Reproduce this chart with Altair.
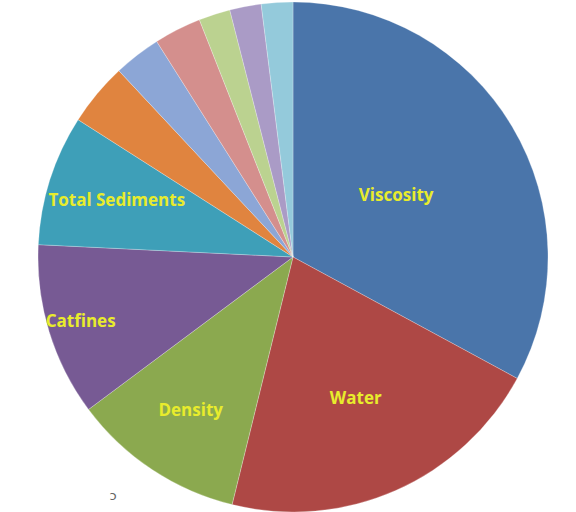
import altair as alt
import pandas as pd
import math

# ---- data ----
categories = ["Viscosity", "Water", "Density", "Catfines", "Total Sediments",
              "Other A", "Other B", "Other C", "Other D", "Other E", "Other F"]
values = [33, 21, 11, 11, 8.3, 4, 3, 3, 2, 2, 2]
shown_labels = ["Viscosity", "Water", "Density", "Catfines", "Total Sediments",
                "", "", "", "", "", ""]

# ---- styles / layout ----
colors = ["#4A75AA", "#AE4845", "#8BA94F", "#775A94", "#3E9FB8",
          "#E0843F", "#8CA6D6", "#D48F8D", "#BBD290", "#AA9BC6", "#94CADB"]
label_radius = [120, 155, 185, 222, 185, 0, 0, 0, 0, 0, 0]
CX, CY, R = 293, 257, 255

df = pd.DataFrame({
    "category": categories,
    "value": values,
    "label": shown_labels,
    "order": list(range(len(categories))),
    "label_r": label_radius,
})

pie = alt.Chart(df).mark_arc(radius=R, stroke="#ffffff", strokeWidth=0.5, strokeOpacity=0.5).encode(
    theta=alt.Theta("value:Q", stack=True),
    order=alt.Order("order:Q"),
    color=alt.Color("category:N", scale=alt.Scale(domain=categories, range=colors), legend=None),
    x=alt.value(CX), y=alt.value(CY),
)

labels = alt.Chart(df).transform_joinaggregate(
    total="sum(value)"
).transform_window(
    cum="sum(value)", sort=[alt.SortField("order")], frame=[None, 0]
).transform_calculate(
    frac="(datum.cum - datum.value / 2) / datum.total"
).transform_filter(
    "datum.label != ''"
).mark_text(font="Open Sans", fontWeight="bold", fontSize=17, color="#E8EC2C").encode(
    theta=alt.Theta("frac:Q", scale=alt.Scale(domain=[0, 1], range=[0, 2 * math.pi])),
    text="label:N",
    radius=alt.Radius("label_r:Q", scale=None),
    x=alt.value(CX), y=alt.value(CY),
)

stray = alt.Chart(pd.DataFrame({"t": ["ɔ"]})).mark_text(
    fontSize=13, color="#666666", font="DejaVu Sans"
).encode(text="t:N", x=alt.value(113), y=alt.value(496))

chart = alt.layer(pie, labels, stray).resolve_scale(theta="independent").properties(
    width=576, height=512, padding=0, autosize=alt.AutoSizeParams(type="none"),
    background="#ffffff",
).configure_view(stroke=None)

chart.save("out.html", embed_options={"renderer": "svg", "actions": False})
